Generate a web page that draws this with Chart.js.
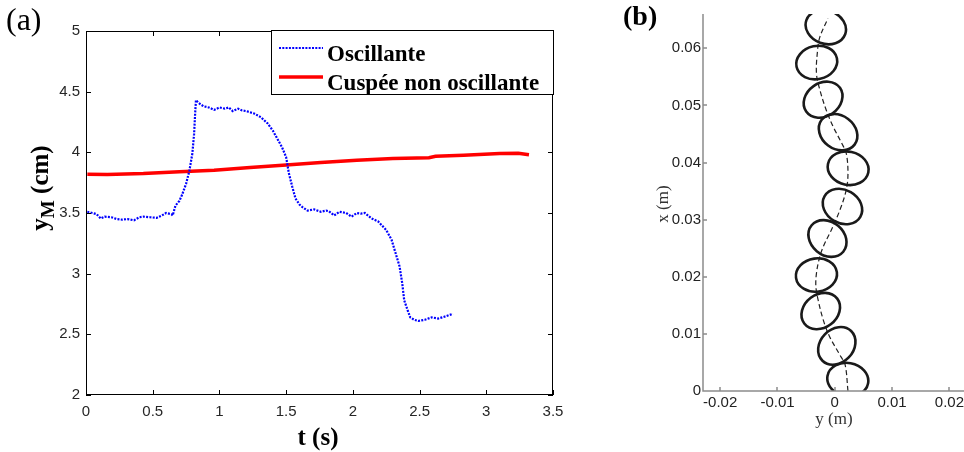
<!DOCTYPE html>
<html>
<head>
<meta charset="utf-8">
<script src="https://cdn.jsdelivr.net/npm/chart.js@4.4.0/dist/chart.umd.min.js"></script>
<style>
body { margin: 0; background: #fff; }
#wrap { position: relative; width: 964px; height: 452px; overflow: hidden; background: #fff; }
canvas { position: absolute; top: 0; }
#chartA { left: 0; }
#chartB { left: 620px; }
.lbl { position: absolute; white-space: nowrap; font-family: "Liberation Serif", "Times New Roman", serif; line-height: 1; }
.rot { transform: translate(-50%, -50%) rotate(-90deg); }
.ctr { transform: translate(-50%, -50%); }
</style>
</head>
<body>
<div id="wrap">
    <canvas id="chartA" width="600" height="452"></canvas>
    <canvas id="chartB" width="360" height="452"></canvas>
    <div class="lbl" style="left:6px; top:3px; font-size:32px;">(a)</div>
    <div class="lbl rot" style="left:42px; top:188px; font-size:25px; font-weight:bold;">y<sub style="font-size:19px;">M</sub> (cm)</div>
    <div class="lbl ctr" style="left:318px; top:436px; font-size:25px; font-weight:bold;">t (s)</div>
    <div class="lbl" style="left:623px; top:2px; font-size:28px; font-weight:bold;">(b)</div>
    <div class="lbl rot" style="left:662px; top:204px; font-size:17px; color:#333;">x (m)</div>
    <div class="lbl ctr" style="left:834px; top:418px; font-size:17px; color:#333;">y (m)</div>
</div>
<script>
// (a) position y_M en fonction du temps
const oscT = [0.01, 0.05, 0.08, 0.11, 0.14, 0.19, 0.23, 0.27, 0.31, 0.36, 0.40, 0.43, 0.48, 0.53, 0.57,
    0.60, 0.64, 0.65, 0.67, 0.70, 0.72, 0.75, 0.775, 0.797, 0.81, 0.818, 0.824, 0.84, 0.88, 0.92,
    0.96, 1.0, 1.04, 1.07, 1.10, 1.14, 1.17, 1.20, 1.26, 1.31, 1.36, 1.40, 1.44, 1.47, 1.50,
    1.52, 1.545, 1.57, 1.60, 1.62, 1.66, 1.71, 1.76, 1.80, 1.82, 1.86, 1.90, 1.95, 1.99, 2.03,
    2.06, 2.09, 2.14, 2.19, 2.25, 2.29, 2.32, 2.35, 2.37, 2.385, 2.41, 2.43, 2.46, 2.49, 2.54,
    2.59, 2.64, 2.70, 2.75];
const oscY = [3.51, 3.50, 3.49, 3.455, 3.47, 3.465, 3.45, 3.445, 3.45, 3.44, 3.465, 3.47, 3.465, 3.46, 3.48,
    3.50, 3.49, 3.48, 3.56, 3.60, 3.65, 3.74, 3.85, 3.99, 4.15, 4.32, 4.43, 4.41, 4.38, 4.37,
    4.35, 4.37, 4.36, 4.37, 4.34, 4.36, 4.345, 4.34, 4.32, 4.29, 4.24, 4.18, 4.10, 4.04, 3.96,
    3.83, 3.72, 3.62, 3.57, 3.55, 3.52, 3.53, 3.51, 3.52, 3.515, 3.48, 3.51, 3.50, 3.47, 3.50,
    3.495, 3.50, 3.455, 3.43, 3.36, 3.28, 3.17, 3.06, 2.92, 2.78, 2.70, 2.64, 2.62, 2.61, 2.62,
    2.64, 2.63, 2.65, 2.67];
const cuspT = [0.01, 0.16, 0.43, 0.70, 0.96, 1.23, 1.50, 1.76, 2.03, 2.30, 2.57, 2.62, 2.83, 3.10, 3.24, 3.32];
const cuspY = [3.82, 3.817, 3.825, 3.84, 3.853, 3.875, 3.895, 3.916, 3.935, 3.95, 3.955, 3.968, 3.975, 3.99, 3.992, 3.98];
const tTicks = [0, 0.5, 1, 1.5, 2, 2.5, 3, 3.5];
const yMTicks = [2, 2.5, 3, 3.5, 4, 4.5, 5];
const legendLabels = ['Oscillante', 'Cuspée non oscillante'];

// (b) trajectoire et contours
const pathX = [0, 0.0046, 0.0063, 0.0095, 0.0124, 0.0159, 0.0183, 0.0206, 0.0232, 0.0253, 0.0282, 0.0317,
    0.0352, 0.0381, 0.0416, 0.0434, 0.0463, 0.0492, 0.0527, 0.0556, 0.0597, 0.0620, 0.0652];
const pathY = [0.0023, 0.0018, 0.0009, -0.0009, -0.0020, -0.0029, -0.0033, -0.0032, -0.0027, -0.0020, -0.0006, 0.0009,
    0.0020, 0.0023, 0.0020, 0.0012, -0.0003, -0.0015, -0.0026, -0.0032, -0.0030, -0.0026, -0.0012];
const ellY = [0.00227, 0.00035, -0.00245, -0.0032, -0.00128, 0.00134, 0.00233, 0.00058, -0.00204, -0.00315, -0.00157];
const ellX = [0.0020, 0.0079, 0.0140, 0.0203, 0.0267, 0.0323, 0.0390, 0.0453, 0.0510, 0.0575, 0.0637];
const ellA = [0.0036, 0.0036, 0.0036, 0.0036, 0.0036, 0.0036, 0.0036, 0.0036, 0.0036, 0.0036, 0.0036];
const ellB = [0.0029, 0.0029, 0.0029, 0.0029, 0.0029, 0.0029, 0.0029, 0.0029, 0.0029, 0.0029, 0.0029];
const ellAngle = [-10, 46, 37, 8, -40, -30, -12, -37, 35, 12, -20];
const yTicksB = [-0.02, -0.01, 0, 0.01, 0.02];
const xTicksB = [0, 0.01, 0.02, 0.03, 0.04, 0.05, 0.06];

const tickFont = { family: 'Liberation Sans', size: 15 };

// cadre, graduations internes et légende du panneau (a)
const frameA = {
    id: 'frameA',
    afterDatasetsDraw(chart) {
        const { ctx, chartArea: a, scales } = chart;
        ctx.save();
        ctx.strokeStyle = '#000';
        ctx.lineWidth = 1;
        ctx.strokeRect(a.left + 0.5, a.top + 0.5, a.right - a.left - 1, a.bottom - a.top - 1);
        ctx.beginPath();
        tTicks.forEach(v => {
            const x = Math.round(scales.x.getPixelForValue(v)) + 0.5;
            ctx.moveTo(x, a.bottom); ctx.lineTo(x, a.bottom - 5);
            ctx.moveTo(x, a.top); ctx.lineTo(x, a.top + 5);
        });
        yMTicks.forEach(v => {
            const y = Math.round(scales.y.getPixelForValue(v)) + 0.5;
            ctx.moveTo(a.left, y); ctx.lineTo(a.left + 5, y);
            ctx.moveTo(a.right, y); ctx.lineTo(a.right - 5, y);
        });
        ctx.stroke();

        // légende
        const lx = a.left + 185, ly = a.top - 1, lw = a.right - lx + 1, lh = 65;
        ctx.fillStyle = '#fff';
        ctx.fillRect(lx, ly, lw, lh);
        ctx.strokeStyle = '#000';
        ctx.strokeRect(lx + 0.5, ly + 0.5, lw - 1, lh - 1);
        ctx.font = 'bold 23px "Liberation Serif"';
        ctx.textBaseline = 'alphabetic';
        chart.data.datasets.forEach((ds, i) => {
            const yy = ly + 18 + i * 29;
            ctx.beginPath();
            ctx.strokeStyle = ds.borderColor;
            ctx.lineWidth = ds.borderWidth;
            ctx.setLineDash(ds.borderDash || []);
            ctx.moveTo(lx + 8, yy); ctx.lineTo(lx + 52, yy);
            ctx.stroke();
            ctx.setLineDash([]);
            ctx.fillStyle = '#000';
            ctx.fillText(legendLabels[i], lx + 56, yy + 13);
        });
        ctx.restore();
    }
};

new Chart(document.getElementById('chartA'), {
    type: 'scatter',
    data: {
        datasets: [
            {
                label: legendLabels[0],
                data: oscT.map((t, i) => ({ x: t, y: oscY[i] })),
                showLine: true,
                borderColor: '#0000ff',
                borderWidth: 2.2,
                borderDash: [2, 1.3],
                pointRadius: 0
            },
            {
                label: legendLabels[1],
                data: cuspT.map((t, i) => ({ x: t, y: cuspY[i] })),
                showLine: true,
                borderColor: '#ff0000',
                borderWidth: 3.5,
                pointRadius: 0
            }
        ]
    },
    options: {
        responsive: false,
        animation: false,
        devicePixelRatio: 1,
        layout: { padding: { top: 31, right: 47, left: 0, bottom: 0 } },
        plugins: { legend: { display: false }, tooltip: { enabled: false } },
        scales: {
            x: {
                type: 'linear', min: 0, max: 3.5,
                afterBuildTicks: s => { s.ticks = tTicks.map(v => ({ value: v })); },
                afterFit: s => { s.height = 57; },
                grid: { display: false, drawTicks: false }, border: { display: false },
                ticks: { color: '#262626', font: tickFont, padding: 8, maxRotation: 0, autoSkip: false, callback: v => String(v) }
            },
            y: {
                type: 'linear', min: 2, max: 5,
                afterBuildTicks: s => { s.ticks = yMTicks.map(v => ({ value: v })); },
                afterFit: s => { s.width = 86; },
                grid: { display: false, drawTicks: false }, border: { display: false },
                ticks: { color: '#262626', font: tickFont, padding: 6, autoSkip: false, callback: v => String(v) }
            }
        }
    },
    plugins: [frameA]
});

// contours elliptiques et axes du panneau (b)
const shapesB = {
    id: 'shapesB',
    afterDatasetsDraw(chart) {
        const { ctx, chartArea: a, scales: { x, y } } = chart;
        const k = Math.abs(x.getPixelForValue(0.001) - x.getPixelForValue(0)) / 0.001;
        ctx.save();
        ctx.beginPath();
        ctx.rect(a.left, a.top, a.right - a.left, a.bottom - a.top);
        ctx.clip();
        ctx.strokeStyle = '#1a1a1a';
        ctx.lineWidth = 2.6;
        ellY.forEach((cy, i) => {
            ctx.beginPath();
            ctx.ellipse(x.getPixelForValue(cy), y.getPixelForValue(ellX[i]), ellA[i] * k, ellB[i] * k,
                -ellAngle[i] * Math.PI / 180, 0, 2 * Math.PI);
            ctx.stroke();
        });
        ctx.restore();

        ctx.save();
        ctx.strokeStyle = '#8c8c8c';
        ctx.lineWidth = 1.5;
        ctx.beginPath();
        ctx.moveTo(a.left, a.top); ctx.lineTo(a.left, a.bottom); ctx.lineTo(a.right, a.bottom);
        yTicksB.forEach(v => {
            const px = Math.round(x.getPixelForValue(v));
            ctx.moveTo(px, a.bottom); ctx.lineTo(px, a.bottom - 4);
        });
        xTicksB.forEach(v => {
            const py = Math.round(y.getPixelForValue(v));
            ctx.moveTo(a.left, py); ctx.lineTo(a.left + 4, py);
        });
        ctx.stroke();
        ctx.restore();
    }
};

new Chart(document.getElementById('chartB'), {
    type: 'scatter',
    data: {
        datasets: [{
            data: pathY.map((v, i) => ({ x: v, y: pathX[i] })),
            showLine: true,
            borderColor: '#222',
            borderWidth: 1.2,
            borderDash: [5, 3],
            tension: 0.35,
            pointRadius: 0
        }]
    },
    options: {
        responsive: false,
        animation: false,
        devicePixelRatio: 1,
        layout: { padding: { top: 14, right: 16, left: 0, bottom: 0 } },
        plugins: { legend: { display: false }, tooltip: { enabled: false } },
        scales: {
            x: {
                type: 'linear', min: -0.023, max: 0.02255,
                afterBuildTicks: s => { s.ticks = yTicksB.map(v => ({ value: v })); },
                afterFit: s => { s.height = 61; },
                grid: { display: false, drawTicks: false }, border: { display: false },
                ticks: { color: '#222', font: tickFont, padding: 3, maxRotation: 0, autoSkip: false, callback: v => String(v) }
            },
            y: {
                type: 'linear', min: 0, max: 0.066,
                afterBuildTicks: s => { s.ticks = xTicksB.map(v => ({ value: v })); },
                afterFit: s => { s.width = 83; },
                grid: { display: false, drawTicks: false }, border: { display: false },
                ticks: { color: '#222', font: tickFont, padding: 2, autoSkip: false, callback: v => String(v) }
            }
        }
    },
    plugins: [shapesB]
});
</script>
</body>
</html>
